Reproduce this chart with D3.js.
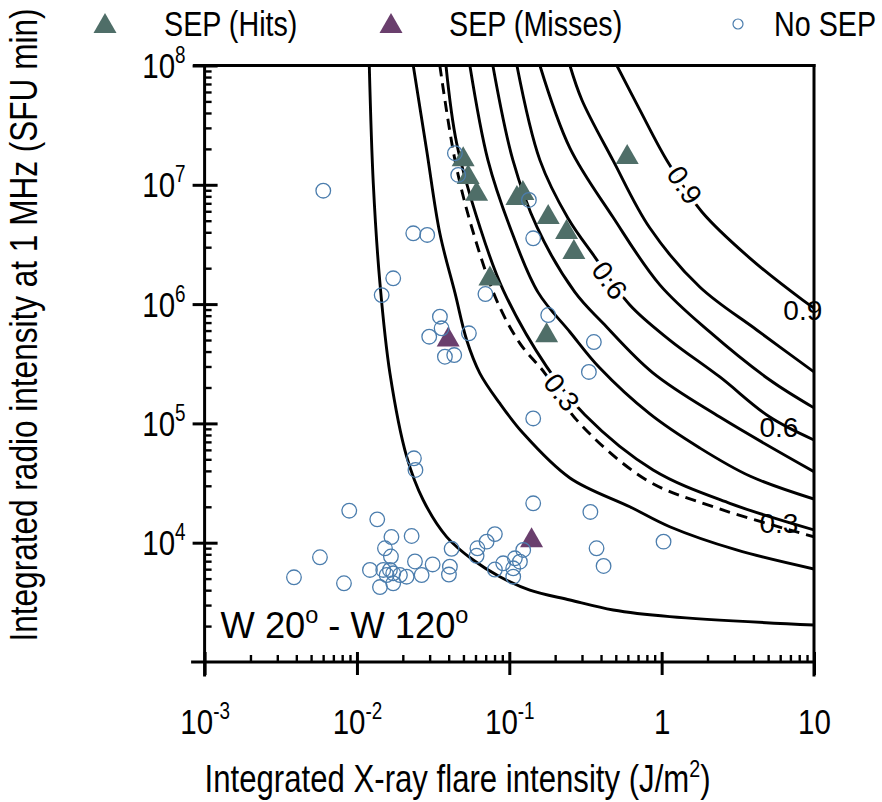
<!DOCTYPE html>
<html>
<head>
<meta charset="utf-8">
<script src="https://cdn.jsdelivr.net/npm/d3@7"></script>
<style>
  body { margin: 0; background: #fff; }
  svg { display: block; }
  text { font-family: "Liberation Sans", Arial, Helvetica, sans-serif; fill: #000; }
</style>
</head>
<body>
<svg id="chart" width="882" height="802"></svg>
<script>
// ---- data ----
// SEP events that were predicted (hits)
const hitX = [0.0498, 0.0537, 0.0610, 0.1122, 0.1228, 0.180, 0.2377, 0.2654, 0.0746, 0.1757, 0.594];
const hitY = [1.70e7, 1.21e7, 8.75e6, 8.05e6, 8.87e6, 5.58e6, 4.18e6, 2.84e6, 1.70e6, 5.69e5, 1.78e7];

// SEP events that were missed
const missX = [0.0397, 0.140];
const missY = [5.25e5, 1.09e4];

// flares without SEP
const noSepX = [0.00601, 0.02342, 0.02892, 0.0173, 0.01453, 0.04395, 0.0462, 0.1345, 0.1435, 0.0697,
    0.03504, 0.03595, 0.02981, 0.0543, 0.03779, 0.0435, 0.18, 0.359, 0.333, 0.1435,
    0.02366, 0.02421, 0.1435, 0.3405, 0.3739, 0.4157, 1.029, 0.0089, 0.01359, 0.01684,
    0.02285, 0.01527, 0.01671, 0.005717, 0.00386, 0.008218, 0.01416, 0.0173, 0.01217, 0.01488,
    0.01646, 0.0173, 0.01566, 0.01915, 0.02119, 0.02403, 0.03139, 0.02658, 0.04075, 0.04015,
    0.04182, 0.06176, 0.061, 0.07096, 0.0804, 0.0912, 0.0804, 0.1061, 0.1061, 0.1088,
    0.1174, 0.1234];
const noSepY = [8.92e6, 3.92e6, 3.80e6, 1.645e6, 1.19e6, 1.84e7, 1.21e7, 7.46e6, 3.56e6, 1.215e6,
    7.84e5, 6.27e5, 5.33e5, 5.69e5, 3.62e5, 3.74e5, 8.10e5, 4.81e5, 2.70e5, 1.10e5,
    5.10e4, 4.07e4, 2.14e4, 1.81e4, 8.98e3, 6.38e3, 1.02e4, 1.855e4, 1.57e4, 1.116e4,
    1.138e4, 8.98e3, 7.66e3, 7.55e3, 5.13e3, 4.57e3, 4.25e3, 4.57e3, 5.91e3, 5.91e3,
    5.91e3, 5.54e3, 5.36e3, 5.36e3, 5.19e3, 6.96e3, 6.57e3, 5.36e3, 6.29e3, 5.41e3,
    8.89e3, 8.98e3, 7.77e3, 1.02e4, 1.18e4, 6.72e3, 5.96e3, 6.10e3, 5.19e3, 7.40e3,
    6.93e3, 8.69e3];

// probability contours, [x, y] points
const contour1 = [[0.01205, 1e8], [0.0128, 1.03e7], [0.01416, 1.49e6], [0.01646, 2.63e5], [0.0212, 5.26e4],
    [0.0272, 2.28e4], [0.0388, 1.12e4], [0.0579, 7.16e3], [0.0867, 5.19e3], [0.1364, 4.01e3],
    [0.250, 3.31e3], [0.481, 2.73e3], [1.13, 2.40e3], [10, 2.04e3]];
const contour2 = [[0.02342, 1e8], [0.02866, 1.96e7], [0.0350, 3.92e6], [0.0440, 1.24e6], [0.0525, 5.0e5],
    [0.0641, 2.63e5], [0.0867, 1.47e5], [0.1233, 8.26e4], [0.250, 3.49e4], [0.618, 2.0e4],
    [1.13, 1.36e4], [3.10, 8.69e3], [10, 6.02e3]];
const contour3 = [[0.0384, 1e8], [0.0451, 2.24e7], [0.0641, 4.43e6], [0.0912, 1.31e6], [0.1757, 2.99e5],
    [0.313, 1.18e5], [0.879, 4.07e4], [2.80, 2.14e4], [10, 1.28e4]];
const contour4 = [[0.0551, 1e8], [0.0724, 1.61e7], [0.1009, 4.43e6], [0.1541, 1.26e6], [0.250, 5.84e5],
    [0.393, 2.91e5], [0.837, 1.20e5], [1.78, 6.22e4], [3.79, 3.62e4], [10, 2.32e4]];
const contour5 = [[0.0780, 1e8], [0.1056, 1.61e7], [0.1518, 4.43e6], [0.2694, 1.26e6], [0.4114, 6.94e5],
    [0.876, 2.65e5], [2.41, 1.13e5], [10, 3.94e4]];
const contour6 = [[0.1122, 1e8], [0.1588, 1.61e7], [0.2424, 5.27e6], [0.3645, 2.48e6], [0.6185, 9.83e5],
    [1.13, 5.0e5], [2.41, 2.45e5], [5.13, 1.13e5], [10, 7.26e4]];
const contour7 = [[0.1588, 1e8], [0.250, 2.03e7], [0.4785, 5.37e6], [0.973, 1.45e6], [2.07, 5.84e5],
    [5.13, 2.31e5], [10, 1.35e5]];
const contour8 = [[0.250, 1e8], [0.2996, 5.14e7], [0.4785, 1.61e7], [0.837, 4.34e6], [1.78, 1.39e6],
    [4.21, 6.07e5], [10, 2.70e5]];
const contour9 = [[0.508, 1e8], [0.719, 4.24e7], [1.098, 1.55e7], [1.84, 5.92e6], [3.79, 2.43e6],
    [8.44, 1.08e6], [10, 9.27e5]];
const contourDashed = [[0.0350, 1e8], [0.0440, 1.61e7], [0.0566, 4.43e6], [0.0825, 1.08e6], [0.1174, 4.69e5],
    [0.1713, 2.63e5], [0.2764, 1.07e5], [0.796, 3.35e4], [2.18, 2.0e4], [10, 1.12e4]];

// contour labels: text, x, y, angle
const labelText = ["0.9", "0.6", "0.3", "0.9", "0.6", "0.3"];
const labelX = [1.42, 0.457, 0.2214, 8.44, 5.88, 5.88];
const labelY = [1.0e7, 1.59e6, 1.83e5, 8.92e5, 9.33e4, 1.46e4];
const labelAngle = [56, 54, 52, 0, 0, 0];
const labelInline = [true, true, true, false, false, false];

const xTickValues = [1e-3, 1e-2, 1e-1, 1, 10];
const xTickBase = ["10", "10", "10", "1", "10"];
const xTickExp = ["-3", "-2", "-1", "", ""];
const yTickValues = [1e4, 1e5, 1e6, 1e7, 1e8];
const yTickExp = ["4", "5", "6", "7", "8"];

// ---- layout ----
const svg = d3.select("#chart");
const margin = { top: 65.5, right: 68, bottom: 140, left: 204.6 };
const width = 882 - margin.left - margin.right;
const height = 802 - margin.top - margin.bottom;

const hitColor = "#4f6e68";
const missColor = "#6a3f6d";
const noSepColor = "#4b7dad";
const condense = 0.82;

const x = d3.scaleLog().domain([1e-3, 10]).range([0, width]);
const y = d3.scaleLog().domain([1e3, 1e8]).range([height, 0]);

const g = svg.append("g")
    .attr("transform", "translate(" + margin.left + "," + margin.top + ")");

svg.append("defs").append("clipPath")
    .attr("id", "plot-clip")
    .append("rect")
    .attr("width", width)
    .attr("height", height);

// ---- contours ----
const line = d3.line()
    .x(function(d) { return x(d[0]); })
    .y(function(d) { return y(d[1]); })
    .curve(d3.curveCatmullRom.alpha(0.5));

const curves = g.append("g").attr("clip-path", "url(#plot-clip)");
const solidContours = [contour1, contour2, contour3, contour4, contour5, contour6, contour7, contour8, contour9];

curves.selectAll(".contour")
    .data(solidContours)
    .enter()
    .append("path")
    .attr("class", "contour")
    .attr("d", line)
    .attr("fill", "none")
    .attr("stroke", "#000")
    .attr("stroke-width", 2.9);

curves.append("path")
    .datum(contourDashed)
    .attr("d", line)
    .attr("fill", "none")
    .attr("stroke", "#000")
    .attr("stroke-width", 2.9)
    .attr("stroke-dasharray", "11,7");

// ---- contour labels ----
labelText.forEach(function(t, i) {
    const lg = g.append("g")
        .attr("transform", "translate(" + x(labelX[i]) + "," + y(labelY[i]) + ") rotate(" + labelAngle[i] + ")");
    const txt = lg.append("text")
        .attr("text-anchor", "middle")
        .attr("dy", "0.36em")
        .attr("font-size", 28)
        .text(t);
    if (labelInline[i]) {
        txt.attr("stroke", "#fff")
            .attr("stroke-width", 8)
            .attr("paint-order", "stroke");
    }
});

// ---- markers ----
const triangle = "M0,-11L11.5,9L-11.5,9Z";

g.selectAll(".hit")
    .data(hitX)
    .enter()
    .append("path")
    .attr("class", "hit")
    .attr("d", triangle)
    .attr("transform", function(d, i) { return "translate(" + x(d) + "," + y(hitY[i]) + ")"; })
    .attr("fill", hitColor);

g.selectAll(".miss")
    .data(missX)
    .enter()
    .append("path")
    .attr("class", "miss")
    .attr("d", triangle)
    .attr("transform", function(d, i) { return "translate(" + x(d) + "," + y(missY[i]) + ")"; })
    .attr("fill", missColor);

g.selectAll(".nosep")
    .data(noSepX)
    .enter()
    .append("circle")
    .attr("class", "nosep")
    .attr("cx", function(d) { return x(d); })
    .attr("cy", function(d, i) { return y(noSepY[i]); })
    .attr("r", 7.3)
    .attr("fill", "none")
    .attr("stroke", noSepColor)
    .attr("stroke-width", 1.3);

// ---- axes ----
const xMinor = [];
const yMinor = [];
for (let e = -3; e < 1; e++) {
    for (let k = 2; k < 10; k++) xMinor.push(k * Math.pow(10, e));
}
for (let e = 3; e < 8; e++) {
    for (let k = 2; k < 10; k++) yMinor.push(k * Math.pow(10, e));
}

const axisStroke = function(sel, w) {
    sel.select(".domain").remove();
    sel.selectAll(".tick line").attr("stroke", "#000").attr("stroke-width", w);
};

g.append("g")
    .attr("transform", "translate(0," + height + ")")
    .call(d3.axisBottom(x).tickValues(xMinor).tickSize(-7).tickFormat(""))
    .call(axisStroke, 2.4);

g.append("g")
    .call(d3.axisLeft(y).tickValues(yMinor).tickSize(-7).tickFormat(""))
    .call(axisStroke, 2.4);

const xMajor = g.append("g")
    .attr("transform", "translate(0," + height + ")")
    .call(d3.axisBottom(x).tickValues(xTickValues).tickSize(13).tickFormat(""))
    .call(axisStroke, 3);
xMajor.selectAll(".tick line").attr("y1", -10);

const yMajor = g.append("g")
    .call(d3.axisLeft(y).tickValues(yTickValues).tickSize(12).tickFormat(""))
    .call(axisStroke, 3);
yMajor.selectAll(".tick line").attr("x1", 13);

// frame
const frame = g.append("g").attr("stroke", "#000").attr("stroke-width", 3).attr("stroke-linecap", "square");
frame.append("line").attr("x1", -10).attr("x2", width).attr("y1", 0).attr("y2", 0);
frame.append("line").attr("x1", -12).attr("x2", width).attr("y1", height).attr("y2", height);
frame.append("line").attr("x1", 0).attr("x2", 0).attr("y1", 0).attr("y2", height + 13);
frame.append("line").attr("x1", width).attr("x2", width).attr("y1", 0).attr("y2", height + 13);

// tick labels
xMajor.selectAll(".tick").each(function(d, i) {
    const t = d3.select(this).append("g")
        .attr("transform", "translate(0,72) scale(" + condense + ",1)")
        .append("text")
        .attr("text-anchor", "middle")
        .attr("font-size", 36);
    t.append("tspan").text(xTickBase[i]);
    if (xTickExp[i]) {
        t.append("tspan").attr("dy", -15).attr("font-size", 23).text(xTickExp[i]);
    }
});

yMajor.selectAll(".tick").each(function(d, i) {
    const t = d3.select(this).append("g")
        .attr("transform", "translate(-19,12) scale(" + condense + ",1)")
        .append("text")
        .attr("text-anchor", "end")
        .attr("font-size", 36);
    t.append("tspan").text("10");
    t.append("tspan").attr("dy", -15).attr("font-size", 23).text(yTickExp[i]);
});

// region label
const region = g.append("g")
    .attr("transform", "translate(16," + (height - 24) + ") scale(0.98,1)")
    .append("text")
    .attr("font-size", 37);
region.append("tspan").text("W 20");
region.append("tspan").attr("dy", -15).attr("font-size", 24).text("o");
region.append("tspan").attr("dy", 15).text(" - W 120");
region.append("tspan").attr("dy", -15).attr("font-size", 24).text("o");

// axis titles
const xTitle = svg.append("g")
    .attr("transform", "translate(" + (margin.left + 253) + ",792) scale(" + condense + ",1)")
    .append("text")
    .attr("text-anchor", "middle")
    .attr("font-size", 38);
xTitle.append("tspan").text("Integrated X-ray flare intensity (J/m");
xTitle.append("tspan").attr("dy", -15).attr("font-size", 24).text("2");
xTitle.append("tspan").attr("dy", 15).text(")");

svg.append("g")
    .attr("transform", "translate(37,325) rotate(-90) scale(" + condense + ",1)")
    .append("text")
    .attr("text-anchor", "middle")
    .attr("font-size", 38.5)
    .text("Integrated radio intensity at 1 MHz (SFU min)");

// ---- legend ----
const legendItems = [
    { label: "SEP (Hits)", kind: "hit", mx: 105, tx: 164 },
    { label: "SEP (Misses)", kind: "miss", mx: 391, tx: 449 },
    { label: "No SEP", kind: "nosep", mx: 738, tx: 774 }
];

const legend = svg.append("g");
legendItems.forEach(function(item) {
    if (item.kind === "nosep") {
        legend.append("circle")
            .attr("cx", item.mx)
            .attr("cy", 24)
            .attr("r", 5)
            .attr("fill", "none")
            .attr("stroke", noSepColor)
            .attr("stroke-width", 1.2);
    } else {
        legend.append("path")
            .attr("d", triangle)
            .attr("transform", "translate(" + item.mx + ",24)")
            .attr("fill", item.kind === "hit" ? hitColor : missColor);
    }
    legend.append("g")
        .attr("transform", "translate(" + item.tx + ",36) scale(" + condense + ",1)")
        .append("text")
        .attr("font-size", 35)
        .text(item.label);
});
</script>
</body>
</html>
